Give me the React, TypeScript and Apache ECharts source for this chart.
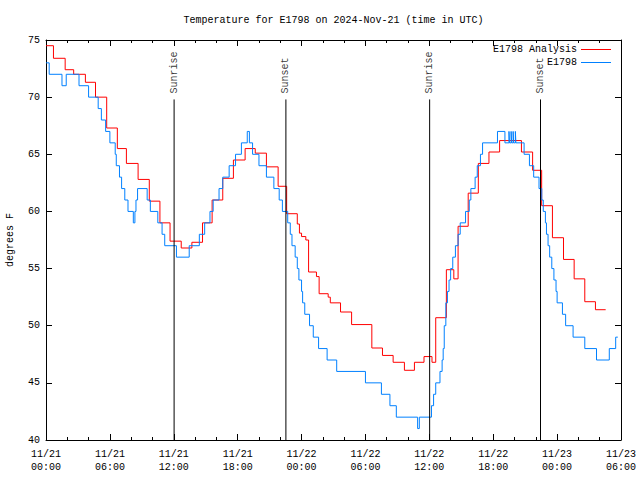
import React, { useEffect, useRef } from 'react';
import * as echarts from 'echarts';

const TITLE = 'Temperature for E1798 on 2024-Nov-21 (time in UTC)';
const Y_NAME = 'degrees F';
const SERIES_NAMES = ['E1798 Analysis', 'E1798'];
const X_TICK_LABELS = [
  '11/21\n00:00', '11/21\n06:00', '11/21\n12:00', '11/21\n18:00', '11/22\n00:00',
  '11/22\n06:00', '11/22\n12:00', '11/22\n18:00', '11/23\n00:00', '11/23\n06:00',
];

// hours since 2024-11-21 00:00 UTC
const analysisHours = [
  0, 0.7, 1.8, 2.6, 3.7, 4.65, 5.7, 6.7, 7.55, 8.65, 9.7, 10.7, 11.65, 12.7, 13.7, 14.7, 15.6,
  16.6, 17.6, 18.7, 19.65, 20.7, 21.8, 22.6, 23.6, 23.8, 24.0, 24.4, 24.66, 25.4, 25.65, 26.5,
  26.7, 27.66, 28.7, 30.6, 31.6, 32.6, 33.66, 34.6, 35.5, 36.25, 36.6, 37.6, 38.3, 38.7, 39.65,
  40.6, 41.6, 42.6, 44.65, 45.7, 46.55, 47.56, 48.6, 49.6, 50.6, 51.6, 52.56,
];
const analysisValues = [
  74.5, 73.4, 72.4, 72.0, 71.3, 70.0, 67.3, 65.5, 64.2, 62.8, 60.9, 59.0, 57.4, 56.8, 57.3, 59.0, 61.0,
  62.9, 64.5, 65.5, 65.1, 63.9, 62.2, 59.8, 58.9, 58.1, 57.8, 57.5, 54.7, 54.3, 52.8, 52.5,
  52.0, 51.2, 50.1, 48.05, 47.4, 46.8, 46.1, 46.8, 47.3, 46.8, 50.7, 54.9, 54.1, 58.7, 61.6,
  64.2, 65.2, 66.2, 65.2, 63.6, 60.5, 57.7, 55.8, 54.1, 52.1, 51.4, 51.4,
];

const obsHours = [
  0, 0.3, 1.5, 1.9, 3.1, 4.0, 4.9, 5.2, 5.6, 6.0, 6.5, 6.6, 6.9, 7.1, 7.4, 7.7, 8.2, 8.35, 8.45,
  8.6, 9.5, 9.8, 10.5, 10.9, 11.15, 12.25, 13.45, 14.4, 14.9, 15.4, 15.7, 16.25, 16.6, 17.2,
  17.8, 18.35, 18.9, 19.1, 19.4, 20.0, 20.7, 21.4, 21.9, 22.2, 22.7, 22.94, 23.1, 23.4, 23.6,
  23.75, 24.0, 24.1, 24.3, 24.75, 25.1, 25.6, 26.4, 27.3, 30.0, 31.5, 32.3, 32.9, 34.9, 35.06,
  36.2, 36.4, 36.6, 37.0, 37.2, 37.3, 37.4, 37.55, 37.7, 37.85, 38.0, 38.2, 38.45, 38.7, 38.9,
  39.4, 39.75, 39.9, 40.3, 40.5, 40.8, 41.0, 42.4, 43.1, 43.48, 43.53, 43.68, 43.73, 43.87, 43.92,
  44.08, 44.13, 44.9, 45.4, 45.8, 46.3, 46.56, 46.7, 46.9, 47.0, 47.15, 47.3, 47.5, 47.7, 47.9,
  48.0, 48.5, 48.8, 49.5, 50.6, 51.7, 52.9, 53.5, 53.7,
];
const obsValues = [
  73, 72, 71, 72, 71, 70, 69, 68, 67, 66, 65, 64, 63, 62, 61, 60, 59, 60, 61,
  62, 61, 60, 59, 58, 57, 56, 57, 58, 59, 60, 61, 62, 63, 64,
  65, 66, 67, 66, 65, 64, 63, 62, 61, 60, 59, 58, 57, 56, 55,
  54, 53, 52, 51, 50, 49, 48, 47, 46, 45, 44, 43, 42, 41, 42,
  43, 44, 45, 46, 47, 48, 50, 52, 53, 54, 55, 56, 57, 58, 59,
  60, 61, 62, 63, 64, 65, 66, 67, 66, 67, 66, 67, 66, 67, 66,
  67, 66, 65, 64, 63, 62, 61, 60, 59, 58, 57, 56, 55, 54, 53,
  52, 51, 50, 49, 48, 47, 48, 49, 49,
];

const sunEventNames = ['Sunrise', 'Sunset', 'Sunrise', 'Sunset'];
const sunEventHours = [12.03, 22.53, 36.03, 46.44];

const X_MIN = 0;
const X_MAX = 54;
const Y_MIN = 40;
const Y_MAX = 75;
const SUN_LINE_TOP = 69.8;

const FONT = 'Liberation Mono, DejaVu Sans Mono, monospace';
const RED = '#ff0000';
const BLUE = '#0080ff';

export default function App() {
  const ref = useRef<HTMLDivElement>(null);
  useEffect(() => {
    document.body.style.margin = '0';
    const chart = echarts.init(ref.current!, null, { renderer: 'svg' });
    const gridLeft = 46;
    const gridRight = 19;
    const gridTop = 40;
    const gridBottom = 40;
    const plotRight = 640 - gridRight;

    const xBase = {
      type: 'value' as const,
      min: X_MIN,
      max: X_MAX,
      interval: 6,
      splitLine: { show: false },
      axisLine: { show: true, onZero: false, lineStyle: { color: '#000', width: 1 } },
      axisTick: { show: true, inside: true, length: 6, lineStyle: { color: '#000' } },
      minorTick: { show: true, splitNumber: 3, length: 3, lineStyle: { color: '#000' } },
    };
    const yBase = {
      type: 'value' as const,
      min: Y_MIN,
      max: Y_MAX,
      interval: 5,
      splitLine: { show: false },
      axisLine: { show: true, onZero: false, lineStyle: { color: '#000', width: 1 } },
      axisTick: { show: true, inside: true, length: 6, lineStyle: { color: '#000' } },
    };

    const sunLineSeries = sunEventHours.map((h, i) => ({
      type: 'line' as const,
      name: 'sun' + i,
      silent: true,
      symbol: 'none',
      showSymbol: false,
      lineStyle: { color: '#000', width: 1 },
      z: 5,
      data: [
        [h, Y_MIN],
        [h, SUN_LINE_TOP],
      ],
    }));

    const sunLabelSeries = {
      type: 'scatter' as const,
      name: 'sunLabels',
      silent: true,
      symbolSize: 0,
      z: 6,
      label: {
        show: true,
        position: 'top',
        distance: 6,
        rotate: 90,
        align: 'left',
        verticalAlign: 'middle',
        color: '#000',
        fontFamily: FONT,
        fontSize: 10,
        formatter: (p: any) => p.name,
      },
      data: sunEventHours.map((h, i) => ({ name: sunEventNames[i], value: [h, SUN_LINE_TOP] })),
    };

    chart.setOption({
      animation: false,
      textStyle: { fontFamily: FONT },
      grid: { left: gridLeft, right: gridRight, top: gridTop, bottom: gridBottom, containLabel: false },
      xAxis: [
        {
          ...xBase,
          position: 'bottom',
          axisLabel: {
            show: true,
            color: '#000',
            fontFamily: FONT,
            fontSize: 10,
            lineHeight: 13,
            margin: 8,
            formatter: (v: number) => X_TICK_LABELS[Math.round(v / 6)] ?? '',
          },
        },
        { ...xBase, position: 'top', axisLabel: { show: false } },
      ],
      yAxis: [
        {
          ...yBase,
          position: 'left',
          axisLabel: { show: true, color: '#000', fontFamily: FONT, fontSize: 10, margin: 6 },
        },
        { ...yBase, position: 'right', axisLabel: { show: false } },
      ],
      series: [
        {
          type: 'line',
          name: SERIES_NAMES[0],
          step: 'end',
          showSymbol: false,
          symbol: 'none',
          lineStyle: { color: RED, width: 1 },
          itemStyle: { color: RED },
          z: 2,
          data: analysisHours.map((h, i) => [h, analysisValues[i]]),
        },
        {
          type: 'line',
          name: SERIES_NAMES[1],
          step: 'end',
          showSymbol: false,
          symbol: 'none',
          lineStyle: { color: BLUE, width: 1 },
          itemStyle: { color: BLUE },
          z: 3,
          data: obsHours.map((h, i) => [h, obsValues[i]]),
        },
        ...sunLineSeries,
        sunLabelSeries,
      ],
      graphic: [
        {
          type: 'text',
          x: (gridLeft + plotRight) / 2,
          y: 20,
          style: {
            text: TITLE,
            fontFamily: FONT,
            fontSize: 10,
            fill: '#000',
            align: 'center',
            verticalAlign: 'middle',
          },
        },
        {
          type: 'text',
          x: 10,
          y: 240,
          rotation: Math.PI / 2,
          style: {
            text: Y_NAME,
            fontFamily: FONT,
            fontSize: 10,
            fill: '#000',
            align: 'center',
            verticalAlign: 'middle',
          },
        },
        {
          type: 'text',
          x: 577,
          y: 49,
          z: 10,
          style: {
            text: SERIES_NAMES[0],
            fontFamily: FONT,
            fontSize: 10,
            fill: '#000',
            align: 'right',
            verticalAlign: 'middle',
          },
        },
        {
          type: 'line',
          z: 10,
          shape: { x1: 581, y1: 49.5, x2: 611, y2: 49.5 },
          style: { stroke: RED, lineWidth: 1 },
        },
        {
          type: 'text',
          x: 577,
          y: 62,
          z: 10,
          style: {
            text: SERIES_NAMES[1],
            fontFamily: FONT,
            fontSize: 10,
            fill: '#000',
            align: 'right',
            verticalAlign: 'middle',
          },
        },
        {
          type: 'line',
          z: 10,
          shape: { x1: 581, y1: 62.5, x2: 611, y2: 62.5 },
          style: { stroke: BLUE, lineWidth: 1 },
        },
      ],
    });
    return () => chart.dispose();
  }, []);
  return (
    <div
      ref={ref}
      style={{ position: 'fixed', left: 0, top: 0, width: 640, height: 480, background: '#fff' }}
    />
  );
}
